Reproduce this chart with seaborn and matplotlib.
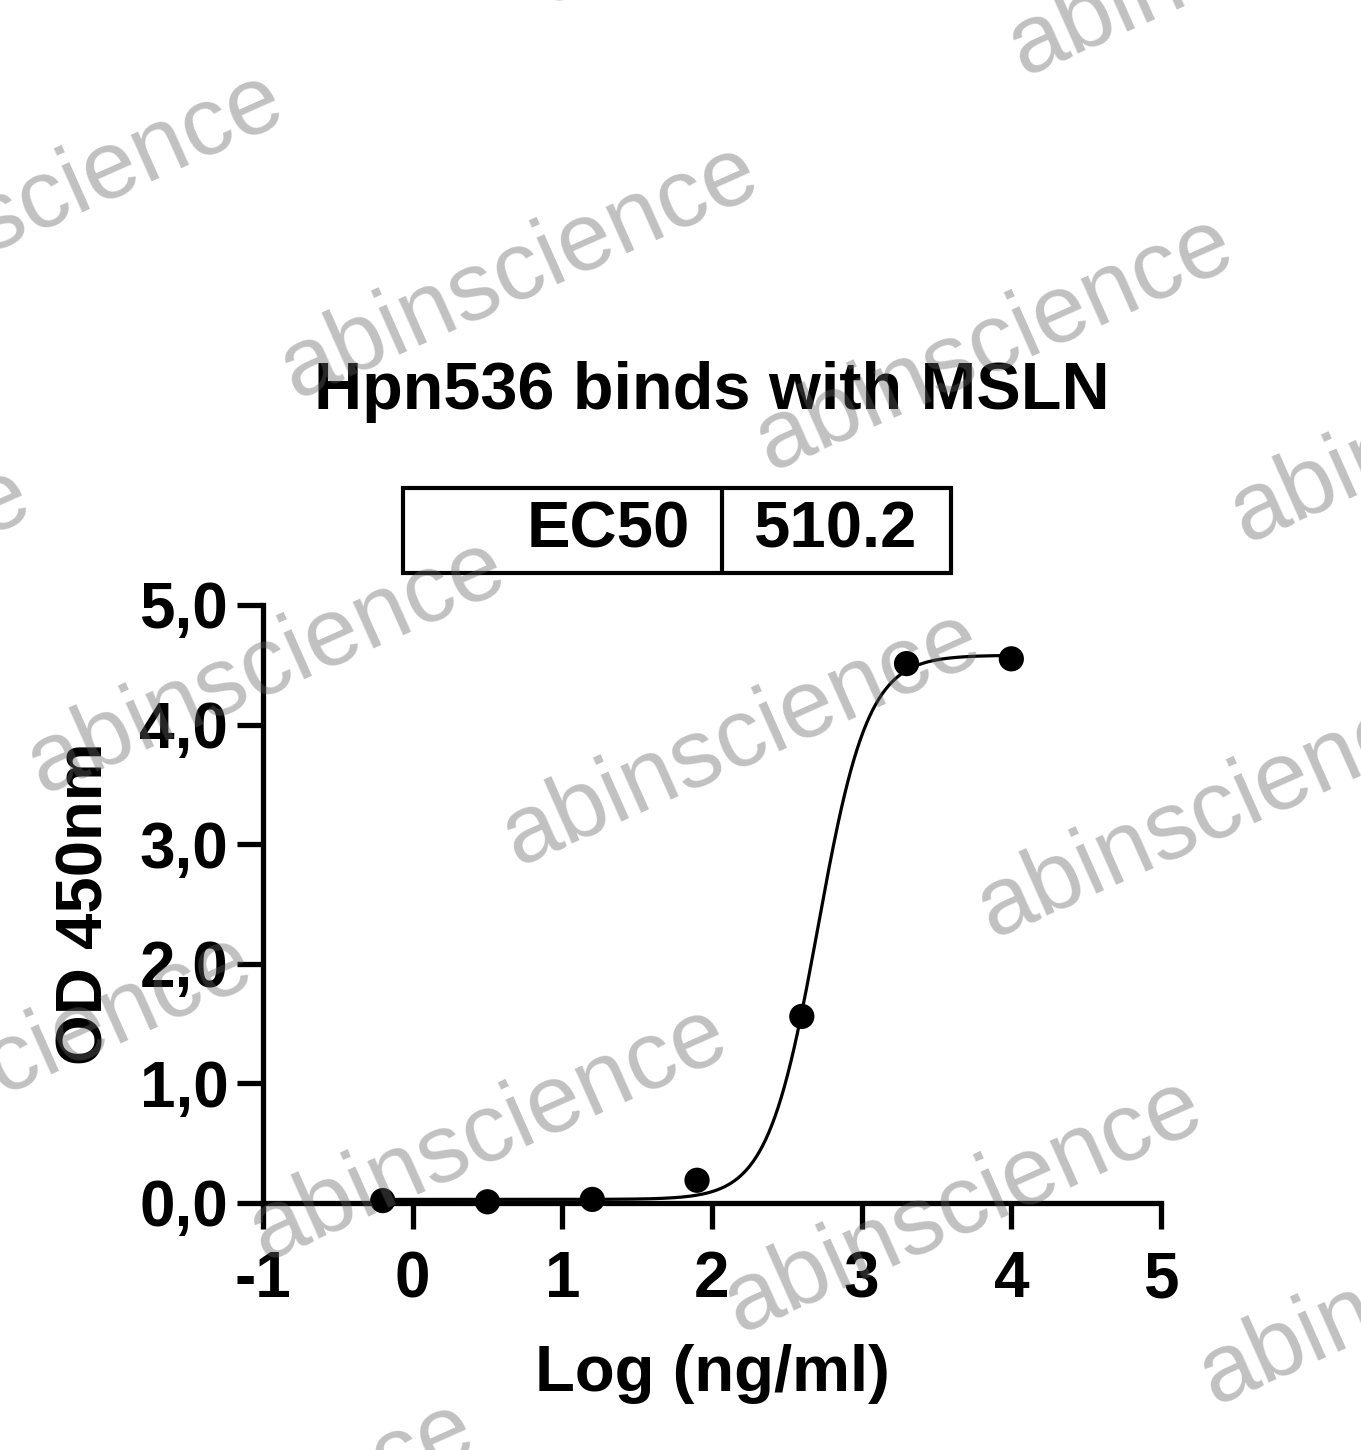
import numpy as np
import pandas as pd
import matplotlib
matplotlib.use("Agg")
import matplotlib.pyplot as plt
import seaborn as sns

# measured points (log concentration vs OD)
log_conc = [-0.2, 0.5, 1.2, 1.9, 2.6, 3.3, 4.0]
od450 = [0.02, 0.01, 0.03, 0.19, 1.56, 4.51, 4.55]

# 4PL fit parameters
fit_bottom = 0.03
fit_top = 4.58
ec50 = 510.2
hill = 2.6

x_ticks = [-1, 0, 1, 2, 3, 4, 5]
x_tick_labels = ["-1", "0", "1", "2", "3", "4", "5"]
y_ticks = [0, 1, 2, 3, 4, 5]
y_tick_labels = ["0,0", "1,0", "2,0", "3,0", "4,0", "5,0"]

title = "Hpn536 binds with MSLN"
x_label = "Log (ng/ml)"
y_label = "OD 450nm"
watermark = "abinscience"

W, H = 1361, 1450

sns.set_style("ticks")
plt.rcParams["font.family"] = ["Liberation Sans", "DejaVu Sans"]
plt.rcParams["font.weight"] = "bold"
plt.rcParams["text.color"] = "black"
plt.rcParams["axes.labelcolor"] = "black"
plt.rcParams["axes.edgecolor"] = "black"
plt.rcParams["xtick.color"] = "black"
plt.rcParams["ytick.color"] = "black"

fig = plt.figure(figsize=(W / 100, H / 100), dpi=100)
ax = fig.add_axes([263 / W, 1 - 1203 / H, (1161 - 263) / W, (1203 - 605) / H])

df = pd.DataFrame({"x": log_conc, "y": od450})
xs = np.linspace(log_conc[0], log_conc[-1], 400)
curve = pd.DataFrame({
    "x": xs,
    "y": fit_bottom + (fit_top - fit_bottom) / (1 + 10 ** ((np.log10(ec50) - xs) * hill)),
})

sns.lineplot(data=curve, x="x", y="y", ax=ax, color="black", linewidth=2.3, zorder=3)
sns.scatterplot(data=df, x="x", y="y", ax=ax, color="black", s=330,
                edgecolor="none", zorder=4, clip_on=False)

ax.set_xlim(-1, 5)
ax.set_ylim(0, 5)
ax.set_xticks(x_ticks)
ax.set_xticklabels(x_tick_labels)
ax.set_yticks(y_ticks)
ax.set_yticklabels(y_tick_labels)
for s in ["top", "right"]:
    ax.spines[s].set_visible(False)
for s in ["left", "bottom"]:
    ax.spines[s].set_linewidth(3.8)
    ax.spines[s].set_color("black")
ax.tick_params(axis="both", width=3.8, length=19, labelsize=46, colors="black")
ax.tick_params(axis="x", pad=15)
ax.tick_params(axis="y", pad=6)
for lab in ax.get_xticklabels() + ax.get_yticklabels():
    lab.set_fontweight("bold")

ax.set_xlabel(x_label, fontsize=47, fontweight="bold", labelpad=24, color="black")
ax.set_ylabel(y_label, fontsize=47, fontweight="bold", labelpad=17, color="black")

fig.text(712 / W, 1 - 392 / H, title, ha="center", va="center",
         fontsize=48, fontweight="bold", color="black")

# EC50 box above the plot
bx0, bx1, bdiv = (403 - 263) / 898, (951 - 263) / 898, (722 - 263) / 898
by0, by1 = (1203 - 573) / 598, (1203 - 488) / 598
ax.add_patch(plt.Rectangle((bx0, by0), bx1 - bx0, by1 - by0, transform=ax.transAxes,
                           fill=False, linewidth=3, edgecolor="black", clip_on=False))
ax.plot([bdiv, bdiv], [by0, by1], transform=ax.transAxes, color="black",
        linewidth=3, clip_on=False)
ax.text((690 - 263) / 898, (by0 + by1) / 2, "EC50", transform=ax.transAxes,
        ha="right", va="center", fontsize=47, fontweight="bold", color="black")
ax.text((836 - 263) / 898, (by0 + by1) / 2, "510.2", transform=ax.transAxes,
        ha="center", va="center", fontsize=47, fontweight="bold", color="black")

# watermark lattice
base = np.array([520, 272])
step_a = np.array([475, 72])
step_b = np.array([222, 467])
for i in range(-3, 3):
    for j in range(-1, 4):
        cx, cy = base + i * step_a + j * step_b
        if -400 < cx < W + 400 and -200 < cy < H + 200:
            fig.text(cx / W, 1 - cy / H, watermark, ha="center", va="center",
                     rotation=24, rotation_mode="anchor", fontsize=70,
                     fontweight="normal", color="#646464", alpha=0.4, zorder=10)

fig.savefig("out.png", dpi=100)
